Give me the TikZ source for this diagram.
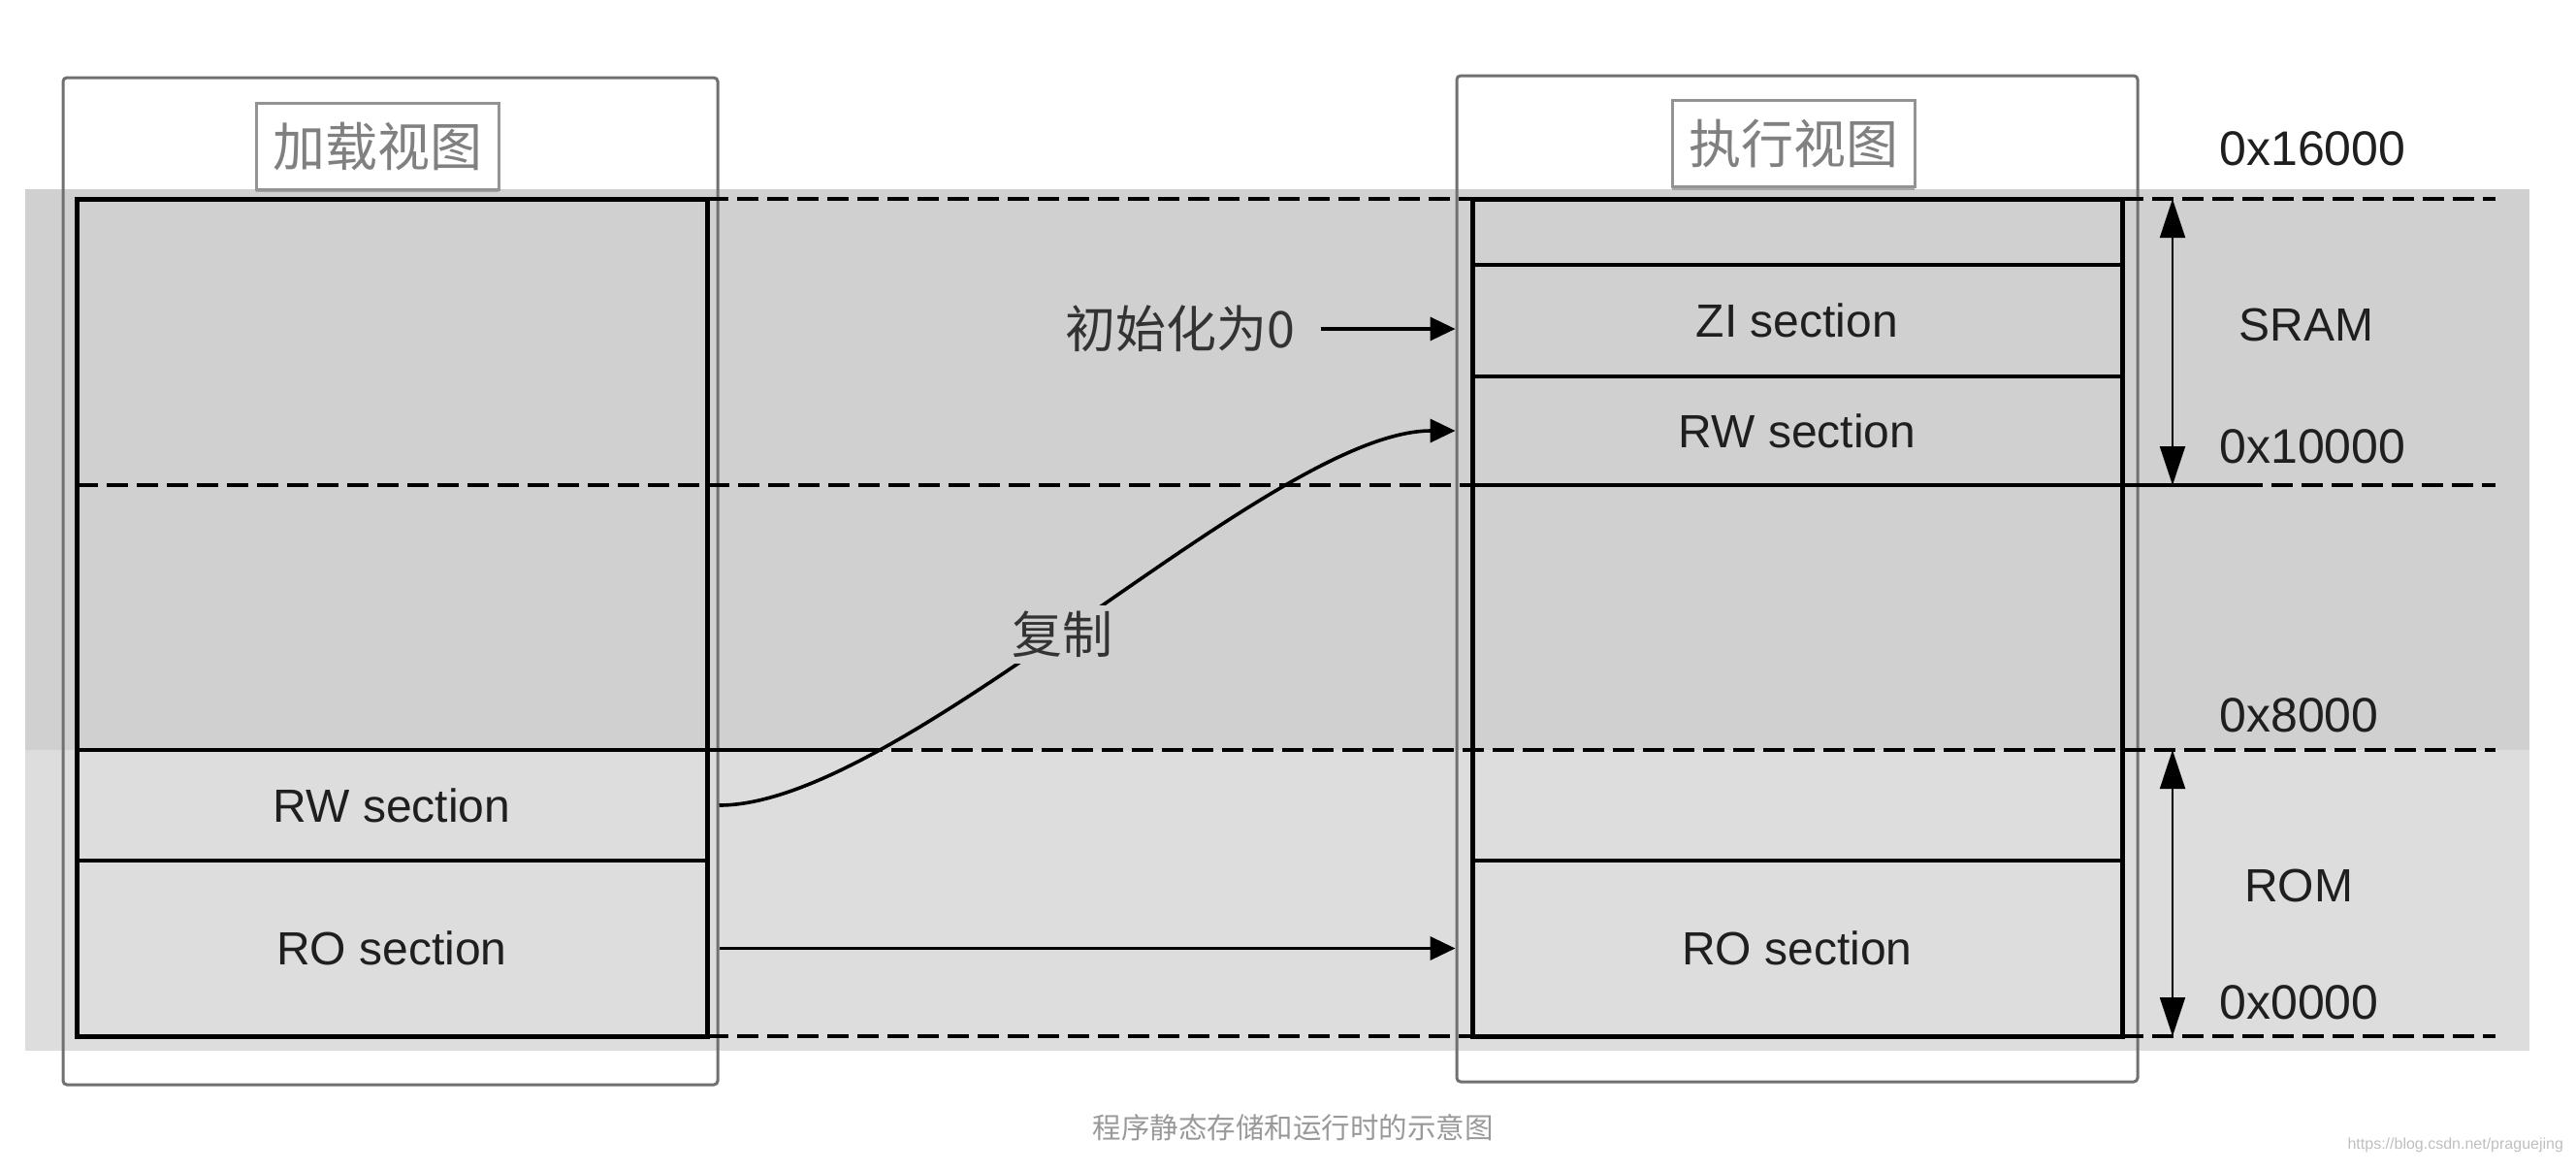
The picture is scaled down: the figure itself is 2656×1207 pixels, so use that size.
\documentclass[tikz,border=0pt]{standalone}
\usepackage{fontspec}
\setmainfont{Liberation Sans}
\newfontfamily\secfont{Liberation Sans}
\newfontfamily\cjk{Noto Sans CJK SC}
\usetikzlibrary{arrows.meta, positioning, shadows}
\definecolor{bandtop}{RGB}{208,208,208}
\definecolor{bandlow}{RGB}{221,221,221}
\definecolor{framegray}{RGB}{112,112,112}
\definecolor{titlegray}{RGB}{128,128,128}
\tikzset{
  viewbox/.style={rectangle,draw=framegray,line width=1.5pt,rounded corners=2pt,inner sep=0pt},
  viewtitle/.style={rectangle,draw=titlegray!85,line width=1.5pt,fill=white,text=titlegray,
    font=\cjk\fontsize{27}{30}\selectfont,minimum width=125pt,minimum height=44.5pt,inner sep=0pt,
    drop shadow={shadow xshift=0pt,shadow yshift=-1.5pt,fill=black!40,opacity=0.8}},
  sect/.style={rectangle,draw,line width=2pt,inner sep=0pt,outer sep=0pt,
    font=\secfont\fontsize{24}{28}\selectfont,text=black!88},
  memframe/.style={draw,line width=2.5pt},
  guide/.style={line width=2pt,dash pattern=on 11pt off 4.5pt},
  line/.style={line width=1.8pt,-{Triangle[length=13pt,width=12pt]}},
  span/.style={line width=1pt,{Triangle[length=20pt,width=13pt]}-{Triangle[length=20pt,width=13pt]}},
  addr/.style={anchor=west,inner sep=0pt,font=\fontsize{25}{30}\selectfont,text=black!88},
  region/.style={inner sep=0pt,font=\fontsize{24}{28}\selectfont,text=black!88},
  note/.style={font=\cjk\fontsize{26}{30}\selectfont,text=black!80,inner sep=1pt}
}

\begin{document}
\begin{tikzpicture}[x=0.5pt,y=-0.5pt]
\useasboundingbox (0,0) rectangle (2656,1207);
% address bands
\fill[bandtop] (26,195) rectangle (2608,773);
\fill[bandlow] (26,773) rectangle (2608,1083);

\node[viewbox, minimum width=337.5pt, minimum height=519pt] (lview) at (402.5,599) {};
\node[viewbox, minimum width=351pt, minimum height=518.5pt] (rview) at (1853,596.5) {};
\node[viewtitle] (ltitle) at (389,150.5) {加载视图};
\node[viewtitle] (rtitle) at (1849,148) {执行视图};

% load view
\node[sect, minimum width=325pt, minimum height=284pt, anchor=north] (lfree) at (404,205) {};
\node[sect, minimum width=325pt, minimum height=57pt, below=0pt of lfree] (lrw) {RW section};
\node[sect, minimum width=325pt, minimum height=90.5pt, below=0pt of lrw] (lro) {RO section};
\draw[memframe] (lfree.north west) rectangle (lro.south east);

% execution view
\node[sect, minimum width=335pt, minimum height=34pt, anchor=north] (rtop) at (1853,205) {};
\node[sect, minimum width=335pt, minimum height=57.5pt, below=0pt of rtop] (rzi) {ZI section};
\node[sect, minimum width=335pt, minimum height=56pt, below=0pt of rzi] (rrw) {RW section};
\node[sect, minimum width=335pt, minimum height=193.5pt, below=0pt of rrw] (rfree) {};
\node[sect, minimum width=335pt, minimum height=90.5pt, below=0pt of rfree] (rro) {RO section};
\draw[memframe] (rtop.north west) rectangle (rro.south east);

% boundaries
\draw[guide] (lfree.north east) -- (rtop.north west);
\draw[guide] (rtop.north east) -- ++(385,0);
\draw[guide] (lfree.west |- rrw.south) -- (rrw.south west);
\draw[line width=2pt] (rrw.south east) -- ++(123,0) coordinate (sramend);
\draw[guide] (sramend) -- ++(262,0);
\draw[line width=2pt] (lrw.north east) -- ++(159,0) coordinate (romstart);
\draw[guide] (romstart) -- ++(1685,0);
\draw[guide] (lro.south east) -- (rro.south west);
\draw[guide] (rro.south east) -- ++(385,0);

% transfers
\draw[line] (lview.east |- lro) -- (rview.west |- lro);
\draw[line] (lview.east |- lrw) .. controls +(190,0) and +(-190,0) .. (rview.west |- rrw)
  node[note, fill=bandtop, inner sep=3pt, pos=0.5, xshift=-13pt, yshift=-8.5pt] (copy) {复制};
\node[note] (zinote) at (1217,339) {初始化为0};
\draw[line, shorten <=12pt] (zinote) -- (rview.west |- zinote);

% address ranges
\coordinate (spanx) at (2240,0);
\draw[span] (spanx |- rtop.north) -- (spanx |- rrw.south);
\draw[span] (spanx |- lrw.north) -- (spanx |- rro.south);
\node[addr] (a16) at (2288,153) {0x16000};
\node[region] (sram) at (2378,335) {SRAM};
\node[addr] (a10) at (2288,460) {0x10000};
\node[addr] (a8) at (2288,737) {0x8000};
\node[region] (rom) at (2370,913) {ROM};
\node[addr] (a0) at (2288,1033) {0x0000};

\node[font=\cjk\fontsize{14.75}{16}\selectfont, text=black!40] (caption) at (1333,1162) {程序静态存储和运行时的示意图};
\node[font=\fontsize{8}{10}\selectfont, text=black!25, anchor=east] (wmark) at (2650,1180) {https://blog.csdn.net/praguejing};
\end{tikzpicture}
\end{document}
